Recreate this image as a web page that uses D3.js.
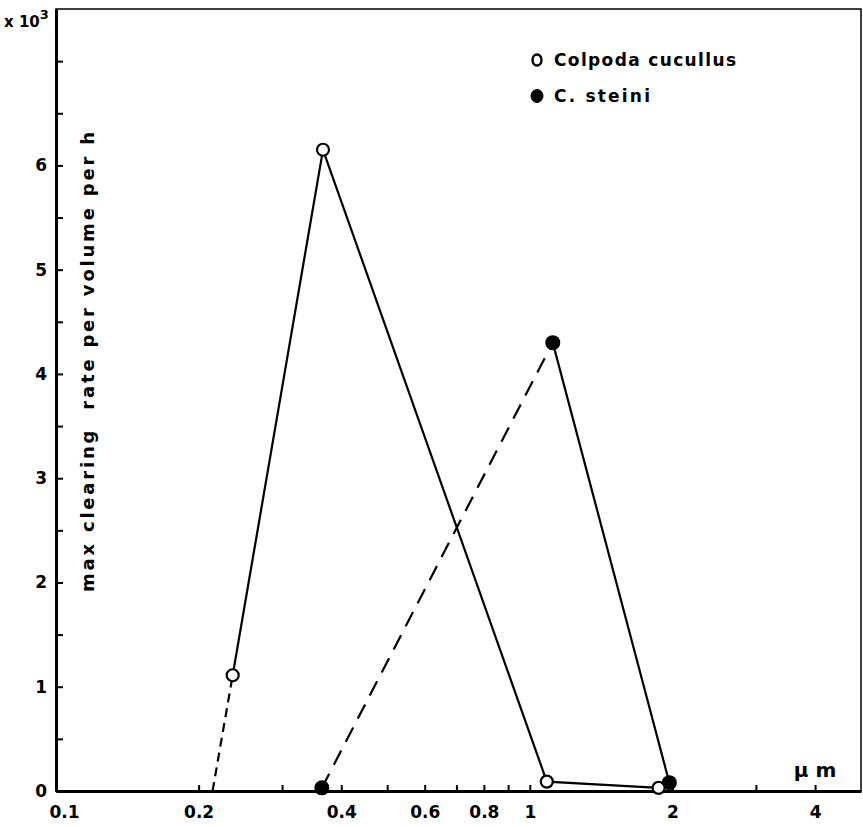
<!DOCTYPE html>
<html>
<head>
<meta charset="utf-8">
<script src="https://cdn.jsdelivr.net/npm/d3@7"></script>
<style>
  body { margin: 0; background: #fff; }
  svg { display: block; font-family: 'DejaVu Sans', sans-serif; }
</style>
</head>
<body>
<svg id="chart"></svg>
<script>
// particle size (um) vs max clearing rate per volume per h (x 10^3)
const cucullusSize = [0.236, 0.366, 1.086, 1.87];
const cucullusRate = [1.11, 6.15, 0.09, 0.03];
const cucullusLeadIn = [0.214, 0]; // dashed extrapolation to the axis

const steiniSize = [0.364, 1.118, 1.97];
const steiniRate = [0.03, 4.3, 0.08];

const xTicks = [0.1, 0.2, 0.3, 0.4, 0.5, 0.6, 0.7, 0.8, 0.9, 1, 2, 3, 4];
const xTickLabels = { 0.1: '0.1', 0.2: '0.2', 0.4: '0.4', 0.6: '0.6', 0.8: '0.8', 1: '1', 2: '2', 4: '4' };
const yTicks = [0, 0.5, 1, 1.5, 2, 2.5, 3, 3.5, 4, 4.5, 5, 5.5, 6, 6.5, 7];
const yTickLabels = [0, 1, 2, 3, 4, 5, 6];

const seriesNames = ['Colpoda cucullus', 'C. steini'];
const yTitle = 'max clearing  rate per volume per h';

const width = 863;
const height = 827;
const margin = { top: 9, right: 2, bottom: 36, left: 56 };

const svg = d3.select('#chart').attr('width', width).attr('height', height);

const x = d3
  .scaleLog()
  .domain([0.1, 5])
  .range([margin.left, width - margin.right]);
const y = d3
  .scaleLinear()
  .domain([0, 7.5])
  .range([height - margin.bottom, margin.top]);

// frame
svg
  .append('rect')
  .attr('x', x(0.1))
  .attr('y', y(7.5))
  .attr('width', x(5) - x(0.1))
  .attr('height', y(0) - y(7.5))
  .attr('fill', 'none')
  .attr('stroke', '#000')
  .attr('stroke-width', 1.5);

const xAxis = svg
  .append('g')
  .attr('transform', `translate(0,${y(0)})`)
  .call(
    d3
      .axisBottom(x)
      .tickValues(xTicks)
      .tickSizeInner(-6)
      .tickSizeOuter(0)
      .tickPadding(15)
      .tickFormat((d) => xTickLabels[d] || '')
  );
xAxis.selectAll('.tick text').filter((d) => d === 0.1).attr('dx', 8);

const yAxis = svg
  .append('g')
  .attr('transform', `translate(${x(0.1)},0)`)
  .call(
    d3
      .axisLeft(y)
      .tickValues(yTicks)
      .tickSizeInner(-7)
      .tickSizeOuter(0)
      .tickPadding(9)
      .tickFormat((d) => (yTickLabels.includes(d) ? d : ''))
  );

[xAxis, yAxis].forEach((g) => {
  g.select('.domain').attr('stroke-width', 3);
  g.selectAll('.tick line').attr('stroke-width', 2);
  g.selectAll('.tick text')
    .attr('font-size', 17)
    .attr('font-weight', 'bold')
    .attr('font-family', 'DejaVu Sans, sans-serif')
    .attr('fill', '#000');
});

// unit labels
svg
  .append('text')
  .attr('x', 4)
  .attr('y', 27)
  .attr('font-size', 15)
  .attr('font-weight', 'bold')
  .text('x 10')
  .append('tspan')
  .attr('dy', -8)
  .attr('font-size', 13)
  .text('3');

svg
  .append('text')
  .attr('x', 815)
  .attr('y', 777)
  .attr('text-anchor', 'middle')
  .attr('font-size', 20)
  .attr('font-weight', 'bold')
  .style('white-space', 'pre')
  .text('μ m');

svg
  .append('text')
  .attr('transform', `translate(94,592) rotate(-90)`)
  .attr('font-size', 18)
  .attr('font-weight', 'bold')
  .attr('textLength', 460)
  .attr('lengthAdjust', 'spacing')
  .style('white-space', 'pre')
  .text(yTitle);

// lines
const line = d3
  .line()
  .x((d) => x(d[0]))
  .y((d) => y(d[1]));

const cucullus = cucullusSize.map((s, i) => [s, cucullusRate[i]]);
const steini = steiniSize.map((s, i) => [s, steiniRate[i]]);

const segments = [
  { pts: [cucullusLeadIn, cucullus[0]], dash: '9,6' },
  { pts: cucullus, dash: null },
  { pts: steini.slice(0, 2), dash: '16,10' },
  { pts: steini.slice(1), dash: null },
];

segments.forEach((s) => {
  svg
    .append('path')
    .datum(s.pts)
    .attr('fill', 'none')
    .attr('stroke', '#000')
    .attr('stroke-width', 2.2)
    .attr('stroke-dasharray', s.dash)
    .attr('d', line);
});

// markers
svg
  .selectAll('.steini')
  .data(steini)
  .enter()
  .append('circle')
  .attr('class', 'steini')
  .attr('cx', (d) => x(d[0]))
  .attr('cy', (d) => y(d[1]))
  .attr('r', 7.5)
  .attr('fill', '#000');

svg
  .selectAll('.cucullus')
  .data(cucullus)
  .enter()
  .append('circle')
  .attr('class', 'cucullus')
  .attr('cx', (d) => x(d[0]))
  .attr('cy', (d) => y(d[1]))
  .attr('r', 6)
  .attr('fill', '#fff')
  .attr('stroke', '#000')
  .attr('stroke-width', 2.2);

// legend
const legend = svg.append('g').attr('transform', 'translate(537,60)');
seriesNames.forEach((name, i) => {
  const row = legend.append('g').attr('transform', `translate(0,${i * 36})`);
  row
    .append('ellipse')
    .attr('rx', i === 0 ? 4.5 : 6)
    .attr('ry', i === 0 ? 5.5 : 6.5)
    .attr('fill', i === 0 ? '#fff' : '#000')
    .attr('stroke', '#000')
    .attr('stroke-width', i === 0 ? 2.4 : 1);
  row
    .append('text')
    .attr('x', 17)
    .attr('y', 6)
    .attr('font-size', 17)
    .attr('font-weight', 'bold')
    .attr('textLength', i === 0 ? 182 : 96)
    .attr('lengthAdjust', 'spacing')
    .text(name);
});
</script>
</body>
</html>
